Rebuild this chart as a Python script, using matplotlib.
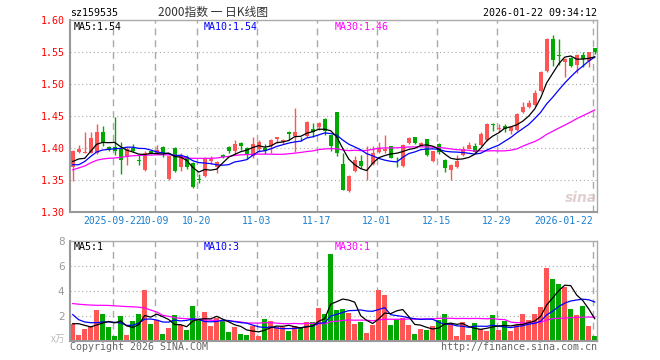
import numpy as np
import pandas as pd
import matplotlib
matplotlib.use("Agg")
import matplotlib.pyplot as plt

# ---------------- data ----------------
opens = [1.370, 1.394, 1.393, 1.393, 1.393, 1.4245, 1.402, 1.401, 1.398, 1.387,
         1.400, 1.382, 1.366, 1.396, 1.392, 1.4016, 1.352, 1.400, 1.370, 1.386,
         1.376, 1.351, 1.356, 1.380, 1.371, 1.3896, 1.402, 1.395, 1.408, 1.400,
         1.388, 1.3984, 1.4005, 1.4026, 1.4146, 1.4094, 1.4255, 1.4182, 1.4162, 1.4182,
         1.430, 1.4323, 1.4458, 1.420, 1.457, 1.3755, 1.3323, 1.3646, 1.380, 1.378,
         1.3755, 1.3943, 1.3958, 1.4036, 1.385, 1.3724, 1.4078, 1.4172, 1.4042, 1.4146,
         1.3792, 1.4068, 1.3818, 1.3662, 1.3703, 1.3885, 1.399, 1.4036, 1.4052, 1.412,
         1.4375, 1.4302, 1.4349, 1.4266, 1.4286, 1.4568, 1.4651, 1.4677, 1.4901, 1.5203,
         1.5708, 1.5458, 1.5349, 1.5406, 1.530, 1.5458, 1.537, 1.5562]
highs = [1.397, 1.405, 1.4255, 1.425, 1.438, 1.435, 1.404, 1.449, 1.410, 1.401,
         1.407, 1.389, 1.396, 1.397, 1.405, 1.403, 1.388, 1.401, 1.392, 1.389,
         1.378, 1.360, 1.386, 1.388, 1.380, 1.390, 1.403, 1.413, 1.409, 1.401,
         1.418, 1.413, 1.4063, 1.414, 1.418, 1.415, 1.426, 1.463, 1.418, 1.442,
         1.439, 1.441, 1.447, 1.421, 1.457, 1.392, 1.358, 1.388, 1.3896, 1.4026,
         1.4026, 1.410, 1.4208, 1.404, 1.386, 1.406, 1.417, 1.418, 1.410, 1.415,
         1.396, 1.408, 1.383, 1.375, 1.3896, 1.4036, 1.4089, 1.4078, 1.425, 1.440,
         1.439, 1.437, 1.438, 1.4349, 1.455, 1.4714, 1.4755, 1.4911, 1.521, 1.572,
         1.5771, 1.5708, 1.541, 1.543, 1.548, 1.550, 1.551, 1.5562]
lows = [1.348, 1.393, 1.392, 1.392, 1.390, 1.403, 1.396, 1.389, 1.359, 1.374,
        1.394, 1.374, 1.3635, 1.390, 1.390, 1.3855, 1.350, 1.363, 1.3635, 1.368,
        1.337, 1.346, 1.354, 1.3755, 1.361, 1.385, 1.392, 1.3896, 1.3974, 1.3833,
        1.385, 1.3943, 1.391, 1.392, 1.4078, 1.4068, 1.413, 1.394, 1.4104, 1.417,
        1.418, 1.4286, 1.421, 1.395, 1.387, 1.334, 1.331, 1.363, 1.3688, 1.3505,
        1.374, 1.392, 1.392, 1.384, 1.370, 1.371, 1.406, 1.4057, 1.403, 1.387,
        1.378, 1.390, 1.362, 1.3505, 1.369, 1.387, 1.398, 1.3922, 1.404, 1.411,
        1.426, 1.4245, 1.4245, 1.4219, 1.427, 1.455, 1.463, 1.466, 1.488, 1.519,
        1.5286, 1.530, 1.512, 1.527, 1.5172, 1.5276, 1.5276, 1.548]
closes = [1.396, 1.399, 1.394, 1.416, 1.4255, 1.410, 1.397, 1.396, 1.382, 1.399,
          1.396, 1.380, 1.392, 1.392, 1.397, 1.393, 1.387, 1.3646, 1.388, 1.371,
          1.3385, 1.350, 1.385, 1.383, 1.379, 1.3865, 1.3953, 1.407, 1.404, 1.391,
          1.407, 1.410, 1.3953, 1.413, 1.4172, 1.4125, 1.4214, 1.4255, 1.4156, 1.4411,
          1.4255, 1.4396, 1.426, 1.4036, 1.393, 1.335, 1.3568, 1.3818, 1.3724, 1.3786,
          1.3922, 1.3995, 1.399, 1.385, 1.384, 1.4052, 1.4161, 1.4078, 1.4078, 1.3885,
          1.3948, 1.3938, 1.3693, 1.374, 1.380, 1.3984, 1.4052, 1.3938, 1.4214, 1.438,
          1.4354, 1.431, 1.4297, 1.4323, 1.4536, 1.464, 1.4708, 1.4859, 1.5198, 1.5708,
          1.538, 1.5443, 1.539, 1.5286, 1.5458, 1.539, 1.550, 1.550]
volumes = [1.36, 0.43, 0.91, 1.18, 2.43, 2.11, 1.07, 0.35, 1.95, 0.43,
           1.55, 2.11, 4.04, 1.31, 1.63, 0.51, 0.99, 2.03, 1.23, 0.83,
           2.75, 1.74, 2.27, 1.15, 1.84, 1.63, 0.67, 1.07, 0.51, 0.43,
           1.18, 0.35, 1.71, 1.55, 1.07, 1.07, 0.75, 1.15, 1.07, 1.47,
           1.47, 2.62, 2.17, 6.90, 2.45, 2.52, 2.22, 1.31, 1.48, 0.60,
           1.27, 4.05, 3.66, 1.25, 1.71, 1.80, 1.23, 0.52, 0.95, 0.83,
           1.15, 1.63, 2.11, 1.31, 0.35, 1.47, 0.43, 1.39, 0.91, 0.75,
           2.03, 0.83, 1.55, 0.75, 1.23, 2.11, 1.63, 2.11, 2.67, 5.80,
           4.92, 4.52, 4.28, 2.51, 2.03, 2.75, 1.15, 0.35]

# moving-average values before enough history is visible
ma5_head = [1.379, 1.383, 1.384, 1.395]
ma10_head = [1.374, 1.374, 1.379, 1.387, 1.394, 1.397, 1.398, 1.399, 1.3995]
ma30_head = [1.366, 1.369, 1.372, 1.377, 1.381, 1.383, 1.384, 1.3845, 1.3855, 1.387,
             1.388, 1.3885, 1.389, 1.389, 1.3895, 1.3895, 1.3895, 1.389, 1.387, 1.3845,
             1.384, 1.384, 1.384, 1.384, 1.3845, 1.386, 1.387, 1.3885, 1.3895]
vma5_head = [1.36, 1.36, 1.23, 1.10]
vma10_head = [2.09, 1.68, 1.50, 1.44, 1.44, 1.50, 1.50, 1.47, 1.42]
vma30_head = [2.97, 2.92, 2.88, 2.85, 2.83, 2.83, 2.82, 2.79, 2.76, 2.73,
              2.71, 2.68, 2.62, 2.45, 2.30, 2.03, 1.95, 1.84, 1.79, 1.76,
              1.74, 1.68, 1.66, 1.64, 1.62, 1.60, 1.58, 1.55, 1.50]

tick_idx = [7, 14, 21, 31, 41, 51, 61, 71, 87]
tick_labels = ['2025-09-22', '10-09', '10-20', '11-03', '11-17', '12-01',
               '12-15', '12-29', '2026-01-22']
price_ticks = [1.30, 1.35, 1.40, 1.45, 1.50, 1.55, 1.60]
vol_ticks = [0, 2, 4, 6, 8]
vol_tick_labels = ['', '2', '4', '6', '8']

symbol = 'sz159535'
title = '2000指数 一 日K线图'
stamp = '2026-01-22 09:34:12'

# ---------------- styling ----------------
RED = '#ff5555'
GREEN = '#00a800'
GRID = '#aaaaaa'
SPINE = '#999999'
MONO = 'DejaVu Sans Mono'
W, H = 660, 360

fig = plt.figure(figsize=(W / 100, H / 100), dpi=100)
fig.patch.set_facecolor('white')


def rect(l, t, r, b):
    return [l / W, 1 - b / H, (r - l) / W, (b - t) / H]


def fxy(x, y):
    return x / W, 1 - y / H


ax = fig.add_axes(rect(70, 20.3, 597, 212))
axv = fig.add_axes(rect(70, 240.7, 597, 340.7))

o = np.array(opens)
h = np.array(highs)
lo = np.array(lows)
c = np.array(closes)
v = np.array(volumes)
x = np.arange(len(c))
up = c >= o
cols = np.where(up, RED, GREEN)


def ma(arr, n, head):
    m = pd.Series(arr).rolling(n).mean().to_numpy()
    m[:n - 1] = head
    return m


ma5 = ma(c, 5, ma5_head)
ma10 = ma(c, 10, ma10_head)
ma30 = ma(c, 30, ma30_head)
vma5 = ma(v, 5, vma5_head)
vma10 = ma(v, 10, vma10_head)
vma30 = ma(v, 30, vma30_head)

xlim = (-0.45, 87.38)
tick_pos = [t - 0.35 for t in tick_idx]

for a in (ax, axv):
    a.set_xlim(*xlim)
    a.set_facecolor('white')
    for t in tick_pos:
        a.axvline(t, color=GRID, lw=1.0, ls=(0, (5, 3.5)), zorder=0)
    for s in ('left', 'bottom'):
        a.spines[s].set_color(SPINE)
        a.spines[s].set_linewidth(1.5)
    for s in ('top', 'right'):
        a.spines[s].set_color('#aaaaaa')
        a.spines[s].set_linewidth(1.0)
    a.tick_params(length=0)

# price panel
ax.vlines(x, lo, h, colors=cols, lw=1.0, zorder=2)
ax.bar(x, np.maximum(np.abs(c - o), 0.0008), bottom=np.minimum(o, c), width=0.72,
       color=cols, linewidth=0, zorder=3)
ax.plot(x, ma30, color='#ff00ff', lw=0.9, zorder=4)
ax.plot(x, ma10, color='#0000ff', lw=0.9, zorder=5)
ax.plot(x, ma5, color='#000000', lw=0.9, zorder=6)
ax.set_ylim(1.30, 1.60)
ax.set_yticks(price_ticks)
ax.set_yticklabels([f'{t:.2f}' for t in price_ticks], color='#ff0000',
                   fontfamily=MONO, fontsize=7.2)
ax.tick_params(axis='y', pad=4)
for t in price_ticks[1:-1]:
    ax.axhline(t, color=GRID, lw=0.8, ls=(0, (1, 2.5)), zorder=0)
ax.set_xticks(tick_pos)
ax.set_xticklabels(tick_labels, color='#1a7fcf', fontfamily=MONO, fontsize=7.0)
ax.tick_params(axis='x', pad=3)
lbls = ax.get_xticklabels()
lbls[-1].set_ha('right')

# volume panel
axv.bar(x, v, width=0.8, color=cols, linewidth=0, zorder=2)
axv.plot(x, vma30, color='#ff00ff', lw=0.9, zorder=4)
axv.plot(x, vma10, color='#0000ff', lw=0.9, zorder=5)
axv.plot(x, vma5, color='#000000', lw=0.9, zorder=6)
axv.set_ylim(0, 8)
axv.set_yticks(vol_ticks)
axv.set_yticklabels(vol_tick_labels, color='#999999', fontsize=7.5)
axv.tick_params(axis='y', pad=4)
axv.set_xticks(tick_pos)
axv.set_xticklabels([])
for t in vol_ticks[1:-1]:
    axv.axhline(t, color=GRID, lw=0.8, ls=(0, (1, 2.5)), zorder=0)

# texts
fig.text(*fxy(70, 13), symbol, fontfamily=MONO, fontsize=7.2, color='#000000',
         ha='left', va='center')
fig.text(*fxy(213, 12.5), title, family=['Noto Sans CJK SC', 'DejaVu Sans'],
         fontsize=8.5, color='#333333', ha='center', va='center')
fig.text(*fxy(597, 13), stamp, fontfamily=MONO, fontsize=7.2, color='#000000',
         ha='right', va='center')

fig.text(*fxy(74, 26.5), f'MA5:{ma5[-1]:.2f}', fontfamily=MONO, fontsize=7.2,
         color='#000000', ha='left', va='center')
fig.text(*fxy(204, 26.5), f'MA10:{ma10[-1]:.2f}', fontfamily=MONO, fontsize=7.2,
         color='#0000ff', ha='left', va='center')
fig.text(*fxy(334.5, 26.5), f'MA30:{ma30[-1]:.2f}', fontfamily=MONO, fontsize=7.2,
         color='#ff00ff', ha='left', va='center')

fig.text(*fxy(74, 246.5), f'MA5:{int(vma5[-1])}', fontfamily=MONO, fontsize=7.2,
         color='#000000', ha='left', va='center')
fig.text(*fxy(204, 246.5), f'MA10:{int(vma10[-1])}', fontfamily=MONO, fontsize=7.2,
         color='#0000ff', ha='left', va='center')
fig.text(*fxy(334.5, 246.5), f'MA30:{int(vma30[-1])}', fontfamily=MONO, fontsize=7.2,
         color='#ff00ff', ha='left', va='center')

fig.text(*fxy(65, 339), 'x万', family=['Noto Sans CJK SC', 'DejaVu Sans'],
         fontsize=7, color='#bbbbbb', ha='right', va='center')
fig.text(*fxy(70, 347), 'Copyright 2026 SINA.COM', fontfamily=MONO, fontsize=7.2,
         color='#666666', ha='left', va='center')
fig.text(*fxy(597, 347), 'http://finance.sina.com.cn', fontfamily=MONO, fontsize=7.2,
         color='#666666', ha='right', va='center')

# faint sina watermark
fig.text(*fxy(581, 198), 'sina', fontsize=10, fontweight='bold', style='italic',
         color='#d9c4c4', ha='center', va='center', alpha=0.8)

fig.savefig('out.png', dpi=100)
